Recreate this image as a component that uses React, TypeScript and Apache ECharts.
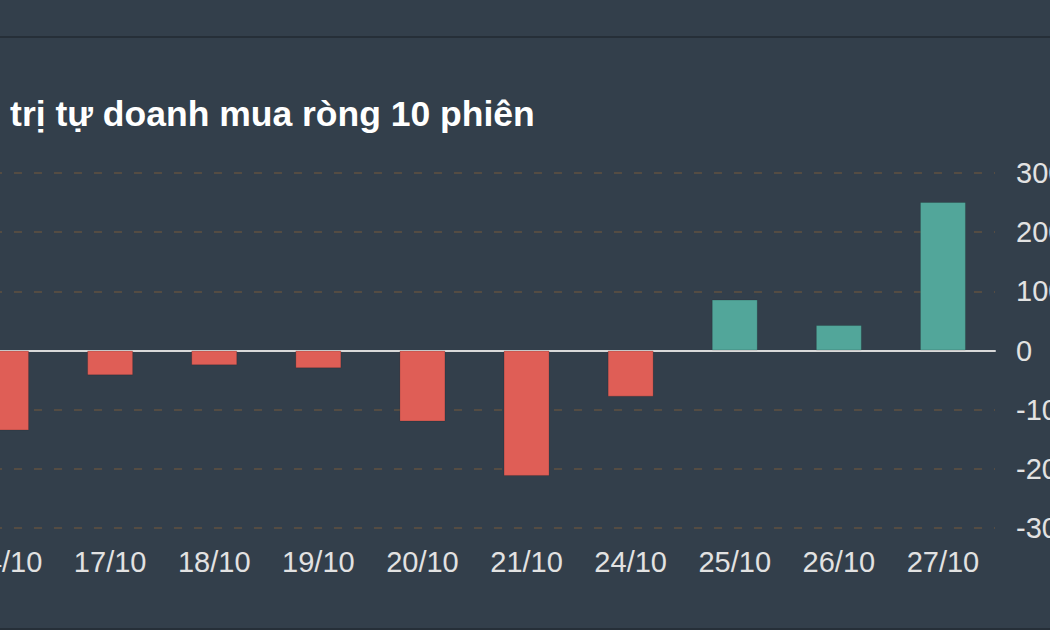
import React, { useEffect, useRef } from "react";
import * as echarts from "echarts";

const categories = ["14/10", "17/10", "18/10", "19/10", "20/10", "21/10", "24/10", "25/10", "26/10", "27/10"];
const values = [-135, -42, -25, -30, -120, -212, -78, 86, 43, 251];
const titleHead = "Giá";
const titleRest = "trị tự doanh mua ròng 10 phiên";
const yMin = -300;
const yMax = 300;
const yInterval = 100;

const OFFSET = 100; // chart is shifted left so that the reference's crop is reproduced

export default function App() {
  const ref = useRef<HTMLDivElement>(null);
  useEffect(() => {
    document.body.style.margin = "0";
    document.body.style.overflow = "hidden";
    document.body.style.background = "#333f4b";
    const chart = echarts.init(ref.current!, null, { renderer: "svg" });
    const font = "'Liberation Sans', Arial, Helvetica, sans-serif";
    const tStyle = { color: "#ffffff", fontSize: 35.5, fontWeight: "bold" as const, fontFamily: font };
    chart.setOption({
      animation: false,
      backgroundColor: "#333f4b",
      textStyle: { fontFamily: font },
      title: {
        text: `{a|${titleHead}} {b|${titleRest}}`,
        left: OFFSET - 64,
        top: 96,
        padding: 0,
        textStyle: {
          ...tStyle,
          rich: {
            a: { ...tStyle, padding: [0, 7, 0, 0] },
            b: { ...tStyle },
          },
        },
      },
      graphic: [
        { type: "rect", shape: { x: 0, y: 36, width: 1400, height: 2 }, style: { fill: "#262f38" } },
        { type: "rect", shape: { x: 0, y: 628, width: 1400, height: 2 }, style: { fill: "#262f38" } },
      ],
      grid: { left: OFFSET - 46, right: 155, top: 173, bottom: 102 },
      xAxis: {
        type: "category",
        data: categories,
        axisTick: { show: false },
        axisLine: { show: true, onZero: true, lineStyle: { color: "#d9d9d9", width: 2 } },
        axisLabel: { color: "#e2e2e2", fontSize: 29, margin: 19, fontFamily: font, interval: 0 },
        splitLine: { show: false },
      },
      yAxis: {
        type: "value",
        position: "right",
        min: yMin,
        max: yMax,
        interval: yInterval,
        axisLine: { show: false },
        axisTick: { show: false },
        axisLabel: { color: "#e2e2e2", fontSize: 29, margin: 21, fontFamily: font },
        splitLine: { show: true, lineStyle: { color: "#544c43", width: 2, type: [8, 12] } },
      },
      series: [
        {
          type: "bar",
          data: values,
          barWidth: 46,
          itemStyle: {
            color: (p: any) => (p.value >= 0 ? "#52a69a" : "#df5e56"),
            borderColor: "rgba(0,0,0,0.15)",
            borderWidth: 1,
          },
        },
      ],
    });
    return () => chart.dispose();
  }, []);
  return (
    <div
      ref={ref}
      style={{ position: "fixed", left: -OFFSET, top: 0, width: 1250, height: 630 }}
    />
  );
}
